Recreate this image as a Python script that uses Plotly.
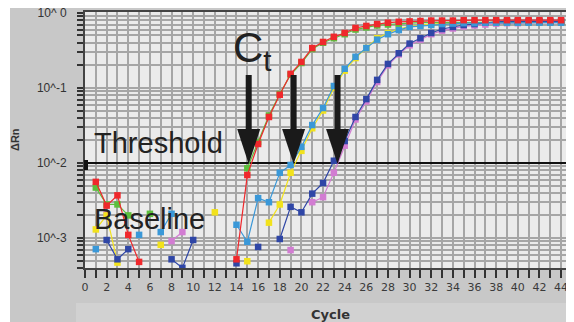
import plotly.graph_objects as go

cycles = list(range(1, 45))
N = None

red = [0.0056, 0.0027, 0.0037, 0.0011, 0.00048] + [N]*8 + \
      [0.00052, 0.0069, 0.0179, 0.041, 0.081, 0.154, 0.222, 0.34, 0.41, 0.48, 0.54, 0.63, 0.67, 0.71, 0.74, 0.76, 0.77,
       0.78, 0.79, 0.79, 0.79, 0.80, 0.80, 0.80, 0.80, 0.80, 0.80, 0.80, 0.80, 0.80, 0.80]
green = [0.0047, 0.0028, 0.0028, 0.0020, N, 0.0021] + [N]*8 + \
        [0.0085, 0.019, 0.043, 0.083, 0.15, 0.215, 0.33, 0.40, 0.46, 0.52, 0.60, 0.64, 0.68, 0.70, 0.72, 0.73,
         0.74, 0.74, 0.74, 0.75, 0.75, 0.75, 0.75, 0.75, 0.75, 0.75, 0.75, 0.75, 0.75, 0.75]
yellow = [0.0013, 0.0020, 0.00047, N, N, N, 0.00081, N, N, N, N, 0.0022, N, N, 0.00049, N,
          0.0016, 0.0028, 0.0074, 0.0145, 0.029, 0.050, 0.100, 0.17, 0.25, 0.34, 0.46, 0.54, 0.61, 0.66,
          0.69, 0.71, 0.72, 0.73, 0.74, 0.74, 0.75, 0.75, 0.75, 0.75, 0.75, 0.75, 0.75, 0.75]
lightblue = [0.00071, N, N, N, 0.0011, N, 0.0012, 0.0021, N, N, N, N, N,
             0.0015, 0.00089, 0.0034, 0.0030, 0.0074, 0.0094, 0.0164, 0.032, 0.054, 0.106, 0.18, 0.26, 0.34,
             0.44, 0.52, 0.59, 0.65, 0.67, 0.69, 0.71, 0.72, 0.73, 0.73, 0.74, 0.74, 0.74, 0.74, 0.74, 0.74, 0.74, 0.74]
pink = [N, 0.0021, N, N, N, N, N, 0.00091, 0.0012, N, N, N, N, N, N, N, N, N,
        0.00069, N, 0.0030, 0.0035, 0.0074, 0.017, 0.038, 0.066, 0.12, 0.20, 0.28, 0.37, 0.44, 0.52, 0.58,
        0.62, 0.66, 0.68, 0.70, 0.72, 0.73, 0.73, 0.74, 0.74, 0.74, 0.74]
darkblue = [N, 0.00094, 0.00052, 0.00071, N, N, N, 0.00052, 0.00040, 0.00094, N, N, N,
            0.00046, N, 0.00076, N, 0.00097, 0.0026, 0.0022, 0.0039, 0.0054, 0.0107, 0.0196, 0.041, 0.071,
            0.128, 0.209, 0.29, 0.39, 0.46, 0.54, 0.61, 0.65, 0.69, 0.71, 0.74, 0.76, 0.77, 0.77, 0.77, 0.77,
            0.77, 0.77]

threshold = 0.01
ct_values = [15.13, 19.28, 23.34]

x_ticks = list(range(0, 45))
x_labels = [str(v) if v % 2 == 0 else "" for v in x_ticks]
y_ticks, y_labels = [], []
for k in range(-4, 1):
    for m in range(1, 10):
        v = m * 10 ** k
        if v > 1.0001 or v < 10 ** -3.42:
            continue
        y_ticks.append(v)
        y_labels.append(("10^ 0" if k == 0 else f"10^{k}") if m == 1 else "")

series = [
    ("pink", pink, "#d27cd2"),
    ("yellow", yellow, "#f2e21c"),
    ("green", green, "#5cbf3c"),
    ("darkblue", darkblue, "#2f46a6"),
    ("lightblue", lightblue, "#3a98d8"),
    ("red", red, "#f0282c"),
]

fig = go.Figure()
fig.add_trace(go.Scatter(x=[0, 45.2], y=[threshold, threshold], mode="lines",
                         line=dict(color="#111111", width=2), hoverinfo="skip", showlegend=False))
for name, vals, col in series:
    fig.add_trace(go.Scatter(x=cycles, y=vals, mode="lines+markers", name=name,
                             connectgaps=False, showlegend=False,
                             line=dict(color=col, width=1.2),
                             marker=dict(symbol="square", size=6.5, color=col, line=dict(width=0))))

# page offset (body margin) = 8 px
OFF = 8
W, H = 566, 314
L, R, T, B = 77, 1, 4, 54
pw, ph = W - L - R, H - T - B


def px(xpage):
    return (xpage - OFF - L) / pw


def py(ypage):
    return (H - B - (ypage - OFF)) / ph


shapes = [
    dict(type="rect", xref="paper", yref="paper", x0=px(0), x1=px(10), y0=py(330), y1=py(0),
         fillcolor="white", line_width=0, layer="below"),
    dict(type="rect", xref="paper", yref="paper", x0=px(76), x1=px(580), y0=py(330), y1=py(303),
         fillcolor="#d1d1d1", line_width=0, layer="below"),
    dict(type="rect", xref="paper", yref="paper", x0=px(84), x1=px(88), y0=py(170), y1=py(160),
         fillcolor="#111111", line_width=0),
    dict(type="rect", xref="paper", yref="paper", x0=px(569), x1=px(574), y0=py(169), y1=py(161),
         fillcolor="#111111", line_width=0),
]
hw = 11.5 / (pw / 45.1)
for c in ct_values:
    shapes.append(dict(type="line", xref="x", yref="paper", x0=c, x1=c, y0=py(75), y1=py(132),
                       line=dict(color="#1a1a1a", width=6)))
    shapes.append(dict(type="path", xref="x", yref="paper",
                       path=f"M {c-hw},{py(129)} L {c+hw},{py(129)} L {c},{py(164)} Z",
                       fillcolor="#1a1a1a", line=dict(width=0)))

big = dict(family="Liberation Sans, Arial, sans-serif", size=29, color="#222222")
annotations = [
    dict(text="Threshold", xref="paper", yref="paper", x=px(93), y=py(143), xanchor="left", yanchor="middle",
         showarrow=False, font=big, borderpad=0),
    dict(text="Baseline", xref="paper", yref="paper", x=px(93), y=py(219), xanchor="left", yanchor="middle",
         showarrow=False, font=big, borderpad=0),
    dict(text="C<sub>t</sub>", xref="paper", yref="paper", x=px(232), y=py(50), xanchor="left", yanchor="middle",
         showarrow=False, font=dict(family="Liberation Sans, Arial, sans-serif", size=42, color="#222222"),
         borderpad=0),
    dict(text="<b>ΔRn</b>", xref="paper", yref="paper", x=px(15), y=py(140), textangle=-90,
         xanchor="center", yanchor="middle",
         showarrow=False, font=dict(family="Liberation Sans, Arial, sans-serif", size=11, color="#333333")),
    dict(text="<b>Cycle</b>", xref="paper", yref="paper", x=px(330), y=py(314), xanchor="center",
         yanchor="middle",
         showarrow=False, font=dict(family="DejaVu Sans, sans-serif", size=13, color="#333333")),
]

fig.update_layout(
    width=W, height=H, margin=dict(l=L, r=R, t=T, b=B, autoexpand=False),
    paper_bgcolor="#c8c8c8", plot_bgcolor="#ebebeb",
    shapes=shapes, annotations=annotations,
    showlegend=False,
)
fig.update_xaxes(range=[0, 45.1], tickvals=x_ticks, ticktext=x_labels, ticks="outside", ticklen=8,
                 tickwidth=1.5, tickcolor="#333333", showgrid=True, gridcolor="#a6a6a6", gridwidth=1.5,
                 showline=True, linecolor="#444444", linewidth=2, mirror=True, zeroline=False,
                 automargin=False, ticklabeloverflow="allow",
                 tickfont=dict(family="DejaVu Sans, sans-serif", size=11, color="#3a3a3a"))
fig.update_yaxes(type="log", range=[-3.40, 0.012], tickvals=y_ticks, ticktext=y_labels, ticks="outside",
                 ticklen=6, tickwidth=1.5, tickcolor="#333333", showgrid=True, gridcolor="#a6a6a6",
                 gridwidth=1.5, showline=True, linecolor="#444444", linewidth=2, zeroline=False,
                 ticklabelstandoff=8, automargin=False, ticklabeloverflow="allow",
                 tickfont=dict(family="Liberation Sans, Arial, sans-serif", size=12, color="#333333"))

fig.write_html("out.html")
